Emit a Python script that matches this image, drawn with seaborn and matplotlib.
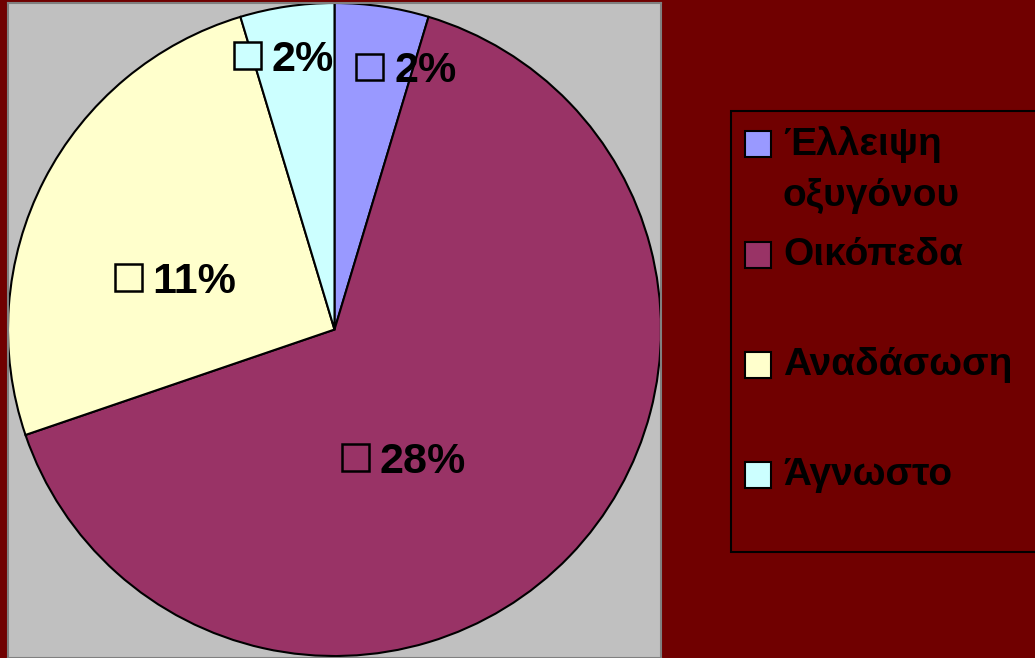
import matplotlib
matplotlib.use("Agg")
import matplotlib.pyplot as plt
from matplotlib.patches import Rectangle
import seaborn as sns

# data
categories = ["Έλλειψη\nοξυγόνου", "Οικόπεδα", "Αναδάσωση", "Άγνωστο"]
values = [2, 28, 11, 2]
colors = ["#9999FF", "#993366", "#FFFFCC", "#CCFFFF"]

# left edge / vertical centre of the in-slice labels (data units, radius = 1)
label_pos = [(0.183, 0.804), (0.138, -0.391), (-0.557, 0.159), (-0.193, 0.838)]

sns.set_style("white")
plt.rcParams["font.family"] = ["Liberation Sans", "DejaVu Sans"]

bg = "#700000"
fig = plt.figure(figsize=(10.35, 6.58), dpi=100, facecolor=bg)

# plot area
ax = fig.add_axes([8 / 1035, 0, 653 / 1035, 655 / 658])
ax.set_facecolor("#C0C0C0")

total = sum(values)
wedges, texts, autotexts = ax.pie(
    values,
    colors=colors,
    startangle=90,
    counterclock=False,
    frame=True,
    autopct=lambda p: f"{round(p * total / 100)}%",
    wedgeprops=dict(edgecolor="black", linewidth=1.5),
    textprops=dict(fontsize=31, fontweight="bold", color="black"),
)
unit = 1 / 327  # data units per pixel
for t, w, (x, y) in zip(autotexts, wedges, label_pos):
    t.set_position((x, y))
    t.set_ha("left")
    t.set_va("center_baseline")
    # little legend key in front of each value
    ax.add_patch(Rectangle((x - 38 * unit, y - 13.5 * unit), 27 * unit, 27 * unit,
                           facecolor=w.get_facecolor(), edgecolor="black",
                           linewidth=1.8, zorder=5))

ax.set_aspect("auto")
ax.set_xlim(-1.0, 1.0)
ax.set_ylim(-1.006, 1.0)
ax.set_xticks([])
ax.set_yticks([])
for s in ax.spines.values():
    s.set_color("#808080")
    s.set_linewidth(1.5)

# legend drawn by hand so the keys line up with the first text line
W, H = 1035, 658
fig.patches.append(Rectangle((731 / W, 1 - 552 / H), 320 / W, 441 / H,
                             transform=fig.transFigure, facecolor=bg,
                             edgecolor="black", linewidth=1.5, zorder=0))
key_centers = [144, 255, 365, 475]
for lab, col, yc in zip(categories, colors, key_centers):
    fig.patches.append(Rectangle((745 / W, 1 - (yc + 13) / H), 26 / W, 26 / H,
                                 transform=fig.transFigure, facecolor=col,
                                 edgecolor="black", linewidth=1.5, zorder=2))
    fig.text(783 / W, 1 - (yc - 18) / H, lab, ha="left", va="top",
             fontsize=28, fontweight="bold", color="black", linespacing=1.55)

fig.savefig("out.png", dpi=100, facecolor=bg)
